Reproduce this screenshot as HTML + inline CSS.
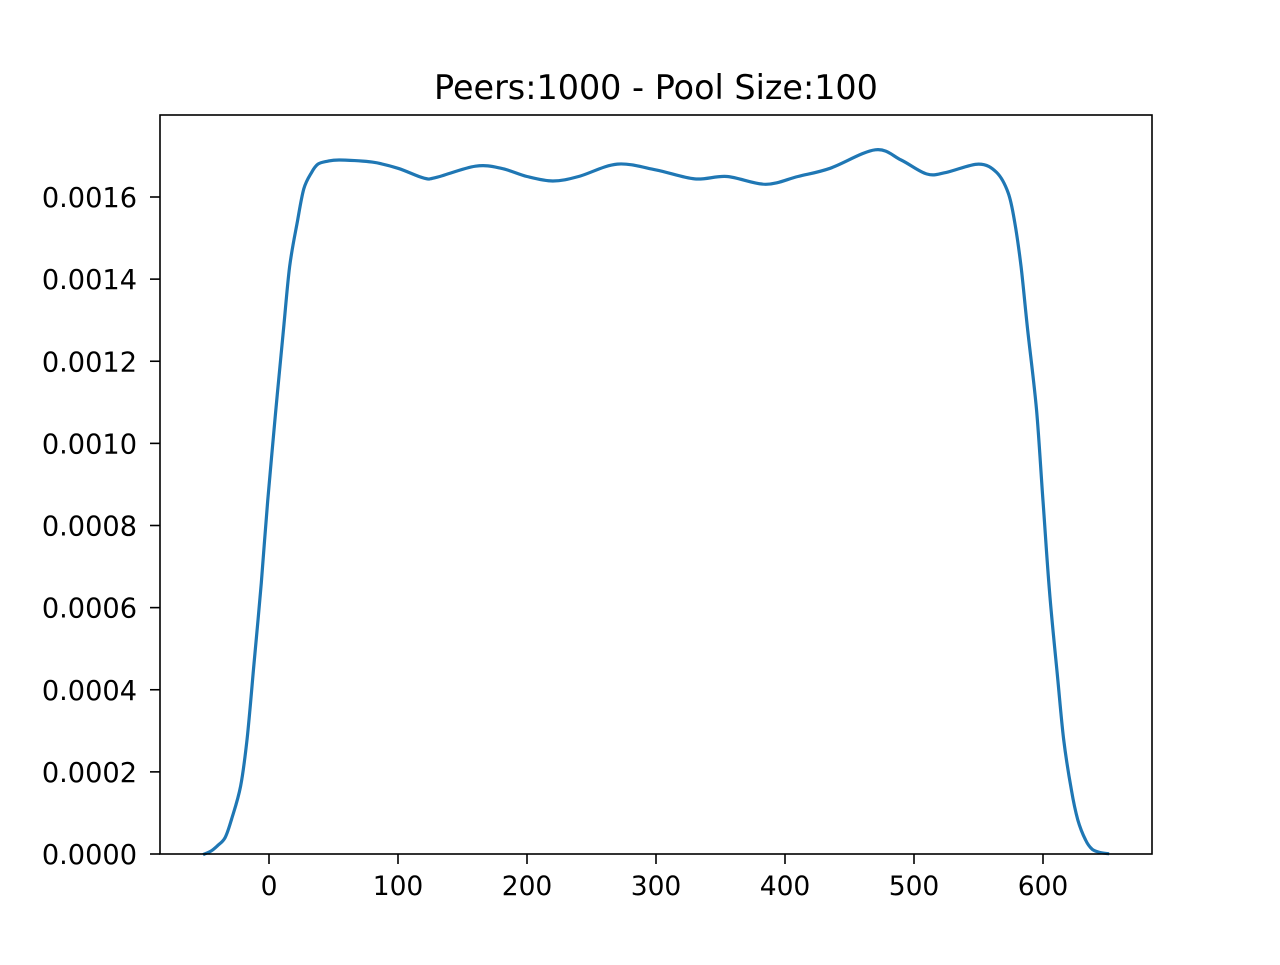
<!DOCTYPE html>
<html><head><meta charset="utf-8"><style>
html,body{margin:0;padding:0;background:#fff}
svg text{font-family:"DejaVu Sans","Liberation Sans",sans-serif;fill:#000}
</style></head><body>
<svg id="chart" width="1280" height="960" viewBox="0 0 1280 960">
<rect width="1280" height="960" fill="#fff"/>
<text x="656" y="99" font-size="33.4" text-anchor="middle">Peers:1000 - Pool Size:100</text>
<g id="xaxis"></g>
<g id="yaxis"></g>
<path id="line" fill="none" stroke="#1f77b4" stroke-width="3.2" stroke-linejoin="round" stroke-linecap="square"/>
<rect x="160" y="115" width="992" height="739" fill="none" stroke="#000" stroke-width="1.6"/>
</svg>
<script>
const xs=[-50,-45,-40,-34,-29,-22,-17,-12,-6,-1,5,11,16,22,27,33,38,45,55,80,100,120,130,160,180,200,220,240,270,300,330,355,385,410,435,470,490,510,525,550,564,573,578,583,588,595,600,605,611,616,622,627,633,638,644,650];
const ys=[0,0.000007,0.00002,0.00004,0.000085,0.000165,0.00028,0.00045,0.00066,0.00086,0.00107,0.00127,0.00143,0.00154,0.00162,0.00166,0.00168,0.001687,0.00169,0.001685,0.00167,0.001646,0.001648,0.001675,0.00167,0.00165,0.001639,0.00165,0.00168,0.001666,0.001644,0.00165,0.001631,0.00165,0.00167,0.001715,0.00169,0.001656,0.00166,0.00168,0.00166,0.00161,0.00154,0.00143,0.00128,0.00108,0.00086,0.00064,0.00044,0.00028,0.000156,0.000083,0.000034,0.000012,0.000004,0.000001];
const xTicks=[0,100,200,300,400,500,600];
const yTicks=[0,0.0002,0.0004,0.0006,0.0008,0.0010,0.0012,0.0014,0.0016];
const X=v=>269+v*1.29;
const Y=v=>854-v*(657/0.0016);
const NS='http://www.w3.org/2000/svg';
const P=xs.map((x,i)=>[X(x),Y(ys[i])]);
let d='M'+P[0][0].toFixed(1)+','+P[0][1].toFixed(1);
for(let i=0;i<P.length-1;i++){
 const p0=P[Math.max(i-1,0)],p1=P[i],p2=P[i+1],p3=P[Math.min(i+2,P.length-1)];
 const c1=[p1[0]+(p2[0]-p0[0])/6,p1[1]+(p2[1]-p0[1])/6];
 const c2=[p2[0]-(p3[0]-p1[0])/6,p2[1]-(p3[1]-p1[1])/6];
 d+=' C'+c1.map(v=>v.toFixed(1)).join(',')+' '+c2.map(v=>v.toFixed(1)).join(',')+' '+p2[0].toFixed(1)+','+p2[1].toFixed(1);
}
document.getElementById('line').setAttribute('d',d);
const xa=document.getElementById('xaxis'),ya=document.getElementById('yaxis');
xTicks.forEach(t=>{
 const l=document.createElementNS(NS,'line');
 l.setAttribute('x1',X(t));l.setAttribute('x2',X(t));l.setAttribute('y1',854);l.setAttribute('y2',864);l.setAttribute('stroke','#000');l.setAttribute('stroke-width','1.6');
 
 
 xa.appendChild(l);
 const tx=document.createElementNS(NS,'text');
 tx.setAttribute('x',X(t));tx.setAttribute('y',895);tx.setAttribute('font-size','26.5');tx.setAttribute('text-anchor','middle');tx.textContent=t;
 
 
 xa.appendChild(tx);
});
yTicks.forEach(t=>{
 const l=document.createElementNS(NS,'line');
 l.setAttribute('x1',150);l.setAttribute('x2',160);l.setAttribute('y1',Y(t));l.setAttribute('y2',Y(t));l.setAttribute('stroke','#000');l.setAttribute('stroke-width','1.6');
 
 
 ya.appendChild(l);
 const tx=document.createElementNS(NS,'text');
 tx.setAttribute('x',137);tx.setAttribute('y',Y(t)+10);tx.setAttribute('font-size','27.2');tx.setAttribute('text-anchor','end');tx.textContent=t.toFixed(4);
 
 
 ya.appendChild(tx);
});
</script>
</body></html>
